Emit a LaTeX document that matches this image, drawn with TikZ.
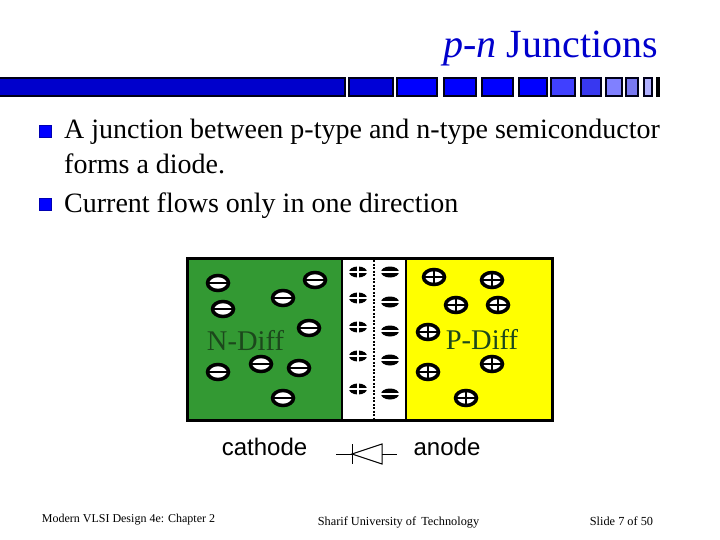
\documentclass[tikz,border=0pt]{standalone}
\usepackage{fontspec}
\setmainfont{Liberation Serif}
\setsansfont{Liberation Sans}
\definecolor{barblue}{RGB}{0,0,204}
\definecolor{ndiffgreen}{RGB}{51,153,51}
\definecolor{pdiffyellow}{RGB}{255,255,0}
\definecolor{difftext}{RGB}{28,72,28}
\tikzset{
    bar/.style={draw=black!90!blue,line width=1.5pt},
    bullet/.style={fill=blue,draw=blue!70!black,line width=0.3pt},
    body/.style={anchor=base west,inner sep=0pt,font=\fontsize{28}{28}\selectfont},
    foot/.style={anchor=base,inner sep=0pt,font=\fontsize{12.3}{12.3}\selectfont},
    difflabel/.style={anchor=base,inner sep=0pt,text=difftext,font=\fontsize{28.5}{28.5}\selectfont},
    sidelabel/.style={anchor=base,inner sep=0pt,font=\sffamily\fontsize{24}{24}\selectfont},
}
\begin{document}
\begin{tikzpicture}[x=1pt,y=-1pt]
    \useasboundingbox(0,0)rectangle(720,540);
    % title and bar
    \node[anchor=base east,inner sep=0pt,text=barblue,font=\fontsize{40}{40}\selectfont](title)at(658,58){\textit{p-n} Junctions};
    \foreach \xa/\xb/\tone/\btone in {-2/345/0/204,349/393/0/215,397/437/0/255,444/476/0/255,482/513/0/255,519/547/0/255,551/575/64/255,581/601/56/240,606/622/128/255,626/638/120/240,644/652/176/255}{
        \definecolor{tmpblue}{RGB}{\tone,\tone,\btone}
        \fill[tmpblue](\xa,78)rectangle(\xb,96);
        \draw[bar](\xa,78)rectangle(\xb,96);
    }
    \fill[black](656,77)rectangle(660,97);
    % bullets
    \fill[bullet](39,125)rectangle(51,137);
    \fill[bullet](39,198)rectangle(51,210);
    \node[body](line1)at(64,139){A junction between p-type and n-type semiconductor};
    \node[body](line2)at(64,174){forms a diode.};
    \node[body](line3)at(64,212){Current flows only in one direction};
    % the junction
    \fill[ndiffgreen](187,258)rectangle(342,420);
    \fill[white](342,258)rectangle(406,420);
    \fill[pdiffyellow](406,258)rectangle(552,420);
    \draw[line width=2pt](342,258)--(342,420)(406,258)--(406,420);
    \draw[line width=3pt](187,258)rectangle(552,420);
    \draw[line width=2.5pt,dash pattern=on 2pt off 1.5pt](374,260)--(374,418);
    % free charges
    \foreach \x/\y in {218/283,315/280,283/298,223/309,309/328,261/364,299/368,218/372,283/398}{
        \draw[line width=3.5pt,fill=white](\x,\y)ellipse(10.5 and 7.5);
        \draw[line width=2.2pt](\x-10,\y)--(\x+10,\y);
    }
    \foreach \x/\y in {434/277,492/280,456/305,498/305,428/332,492/364,428/372,466/398}{
        \draw[line width=3.5pt,fill=white](\x,\y)ellipse(10.5 and 7.5);
        \draw[line width=2.2pt](\x-10,\y)--(\x+10,\y)(\x,\y-7)--(\x,\y+7);
    }
    % depletion charges
    \foreach \y in {272,298,327,356,389}{
        \fill(358,\y)ellipse(9 and 5.5);
        \draw[white,line width=1.5pt](348,\y)--(368,\y)(358,\y-6.5)--(358,\y+6.5);
    }
    \foreach \y in {272,302,331,360,394}{
        \fill(390,\y)ellipse(9 and 5.5);
        \draw[white,line width=1.2pt](380,\y)--(400,\y);
    }
    \node[difflabel](ndiff)at(245.5,350){N-Diff};
    \node[difflabel](pdiff)at(482,349){P-Diff};
    % diode
    \node[sidelabel](cathode)at(264.5,455){cathode};
    \node[sidelabel](anode)at(447,455){anode};
    \draw[line width=1pt](336,454)--(352,454)(352,444)--(352,464)(382,454)--(397,454);
    \draw[line width=1pt](352,454)--(382,444)--(382,464)--cycle;
    % footer
    \node[foot,font=\fontsize{12}{12}\selectfont](footl)at(128.5,522){Modern VLSI Design 4e: Chapter 2};
    \node[foot](footm)at(398.5,525){Sharif University of\, Technology};
    \node[foot](footr)at(621.5,525){Slide 7 of 50};
\end{tikzpicture}
\end{document}
